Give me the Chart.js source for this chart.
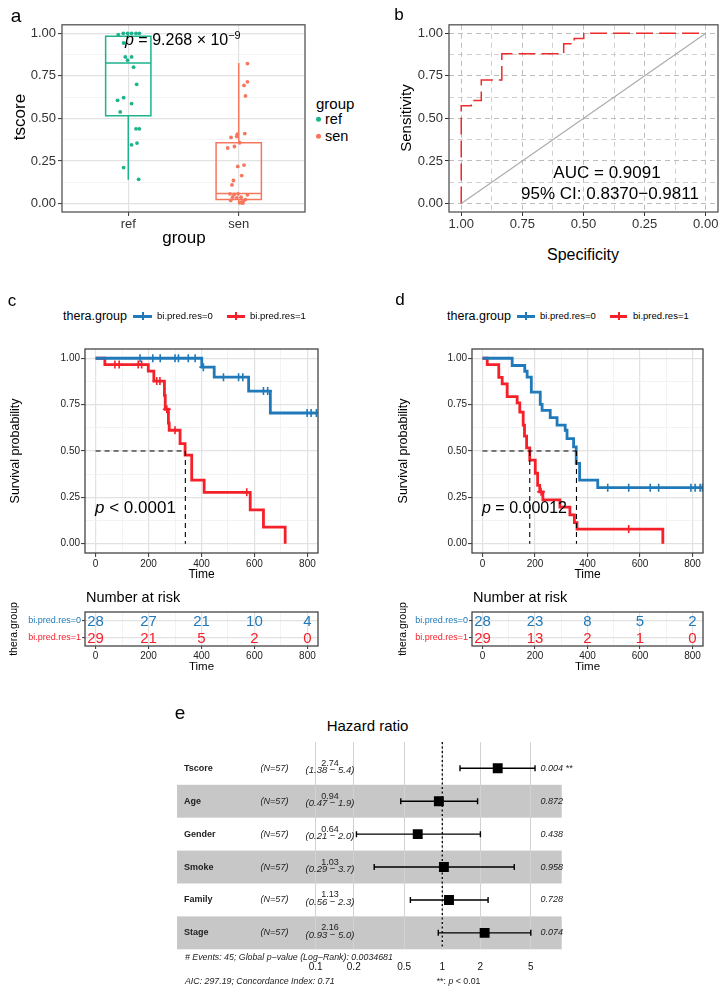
<!DOCTYPE html>
<html>
<head>
<meta charset="utf-8">
<script src="https://cdn.jsdelivr.net/npm/chart.js@4.4.1/dist/chart.umd.min.js"></script>
<style>
  body { margin: 0; width: 726px; height: 994px; position: relative; background: #fff; overflow: hidden;
         font-family: "Liberation Sans", Arial, sans-serif; color: #000; }
  canvas { position: absolute; }
  .t { position: absolute; white-space: nowrap; line-height: 1; }
  .cc { transform: translate(-50%, -50%); }
  .lc { transform: translateY(-50%); }
  .rot { transform: translate(-50%, -50%) rotate(-90deg); }
  .bx { position: absolute; }
  sup { font-size: 0.68em; vertical-align: 0.55em; line-height: 0; }
</style>
</head>
<body>
<canvas id="cA"></canvas>
<canvas id="cB"></canvas>
<canvas id="cC"></canvas>
<canvas id="cCr"></canvas>
<canvas id="cD"></canvas>
<canvas id="cDr"></canvas>
<canvas id="cE"></canvas>
<script>
// ---------- data: panel a (box + jitter) ----------
const groups = ['ref', 'sen'];
const refScore  = [0.992, 1.0, 1.0, 1.0, 1.0, 1.0, 0.943, 0.861, 0.842, 0.861, 0.801, 0.70, 0.606, 0.622, 0.587, 0.538, 0.439, 0.439, 0.345, 0.355, 0.211, 0.142];
const refJitter = [-0.091, -0.045, -0.006, 0.03, 0.07, 0.1, -0.042, -0.027, -0.006, 0.03, 0.048, 0.076, -0.097, -0.042, 0.03, -0.073, 0.07, 0.1, 0.03, 0.079, -0.042, 0.094];
const senScore  = [0.822, 0.715, 0.694, 0.632, 0.407, 0.394, 0.411, 0.388, 0.357, 0.326, 0.335, 0.218, 0.226, 0.164, 0.135, 0.109,
                   0.057, 0.053, 0.057, 0.051, 0.037, 0.033, 0.037, 0.023, 0.018, 0.014, 0.008, 0.002, 0.004];
const senJitter = [0.079, 0.079, 0.048, 0.061, -0.012, -0.018, 0.055, -0.07, 0.009, -0.1, -0.039, -0.009, 0.048, 0.027, -0.048, -0.061,
                   -0.079, -0.042, -0.006, 0.079, -0.055, -0.018, 0.021, 0.061, -0.073, 0.042, 0.024, 0.036, 0.009];
// min, q1, median, q3, max
const refBox = [0.14, 0.515, 0.825, 0.982, 1.0];
const senBox = [0.0, 0.023, 0.058, 0.357, 0.825];
const unitTicks = [0, 0.25, 0.5, 0.75, 1];

// ---------- data: panel b (ROC) ----------
const rocSpec = [1, 1, 0.959, 0.959, 0.918, 0.918, 0.834, 0.834, 0.581, 0.581, 0.538, 0.538, 0.499, 0.499, 0];
const rocSens = [0, 0.574, 0.574, 0.605, 0.605, 0.725, 0.725, 0.88, 0.88, 0.938, 0.938, 0.969, 0.969, 1, 1];

// ---------- data: panels c, d (Kaplan-Meier) ----------
const timeTicks = [0, 200, 400, 600, 800];
const cBlueT = [401, 448, 578, 660];
const cBlueS = [0.952, 0.898, 0.823, 0.705];
const cBlueCens = [168, 216, 244, 300, 313, 350, 376, 407, 483, 540, 556, 634, 650, 799, 814, 834];
const cRedT = [35, 199, 220, 260, 263, 275, 278, 319, 338, 363, 410, 584, 634, 716];
const cRedS = [0.966, 0.931, 0.877, 0.80, 0.725, 0.65, 0.612, 0.54, 0.478, 0.343, 0.277, 0.183, 0.09, 0];
const cRedCens = [73, 89, 161, 174, 231, 243, 269, 300, 571];
const cMedian = [339];

const dBlueT = [113, 161, 170, 186, 220, 227, 258, 284, 315, 322, 347, 357, 370, 439];
const dBlueS = [0.961, 0.93, 0.898, 0.818, 0.751, 0.719, 0.68, 0.639, 0.612, 0.567, 0.522, 0.433, 0.343, 0.302];
const dBlueCens = [477, 557, 639, 671, 794, 810, 829, 838];
const dRedT = [18, 62, 75, 94, 132, 142, 155, 160, 168, 180, 201, 210, 218, 230, 295, 333, 350, 360, 687];
const dRedS = [0.966, 0.897, 0.862, 0.793, 0.759, 0.71, 0.64, 0.58, 0.517, 0.451, 0.38, 0.315, 0.28, 0.236, 0.197, 0.156, 0.114, 0.079, 0];
const dRedCens = [223, 557];
const dMedian = [180, 358];

const riskGroups = ['bi.pred.res=0', 'bi.pred.res=1'];
const riskC = [[28, 27, 21, 10, 4], [29, 21, 5, 2, 0]];
const riskD = [[28, 23, 8, 5, 2], [29, 13, 2, 1, 0]];

// ---------- data: panel e (forest) ----------
const fVars = ['Tscore', 'Age', 'Gender', 'Smoke', 'Family', 'Stage'];
const fN    = [57, 57, 57, 57, 57, 57];
const fHR   = [2.74, 0.94, 0.64, 1.03, 1.13, 2.16];
const fLo   = [1.38, 0.47, 0.21, 0.29, 0.56, 0.93];
const fHi   = [5.4, 1.9, 2.0, 3.7, 2.3, 5.0];
const fP    = ['0.004 **', '0.872', '0.438', '0.958', '0.728', '0.074'];
const fTicks = [0.1, 0.2, 0.5, 1, 2, 5];

// ---------- styles ----------
const FONT = '"Liberation Sans", Arial, sans-serif';
const colRef = '#1db38c', colSen = '#f7775e';
const kmCols = ['#2079b9', '#f5202a'];
Chart.defaults.font.family = FONT;
Chart.defaults.color = '#333';

// ---------- helpers ----------
function txt(s, x, y, cls, css) {
  const d = document.createElement('div');
  d.className = 't ' + (cls || 'lc');
  d.innerHTML = s;
  d.style.cssText = 'left:' + x + 'px;top:' + y + 'px;' + (css || '');
  document.body.appendChild(d);
  return d;
}
function box(x, y, w, h, col) {
  const d = document.createElement('div');
  d.className = 'bx';
  d.style.cssText = 'left:' + x + 'px;top:' + y + 'px;width:' + w + 'px;height:' + h + 'px;background:' + col;
  document.body.appendChild(d);
}
// place canvas cv=[x0,y0,x1,y1] so that the plot area is plot=[l,t,r,b]
function place(id, cv, plot) {
  const el = document.getElementById(id);
  el.style.left = cv[0] + 'px'; el.style.top = cv[1] + 'px';
  el.width = cv[2] - cv[0]; el.height = cv[3] - cv[1];
  return { el: el, pad: { top: plot[1] - cv[1], right: cv[2] - plot[2], left: 0, bottom: 0 },
           yw: plot[0] - cv[0], xh: cv[3] - plot[3] };
}
function mids(a) { const m = []; for (let i = 0; i < a.length - 1; i++) m.push((a[i] + a[i + 1]) / 2); return m; }

function axis(o) {
  const all = o.major.concat(o.minor || []).sort((a, b) => a - b);
  const isMaj = v => o.major.indexOf(v) >= 0;
  return {
    type: o.type || 'linear', min: o.min, max: o.max, reverse: !!o.reverse, display: o.display !== false,
    afterBuildTicks: s => { s.ticks = all.map(v => ({ value: v })); },
    afterFit: s => { if (o.w != null) s.width = o.w; if (o.h != null) s.height = o.h; },
    border: { display: false, dash: o.dash || [] },
    grid: {
      color: c => (c.tick && isMaj(c.tick.value)) ? o.gMaj : o.gMin,
      lineWidth: c => (c.tick && isMaj(c.tick.value)) ? (o.wMaj || 1.2) : (o.wMin || 0.7),
      drawTicks: o.tl !== 0, tickLength: o.tl == null ? 4 : o.tl, tickWidth: 1, tickBorderDash: [],
      tickColor: c => (c.tick && isMaj(c.tick.value)) ? '#333' : 'rgba(0,0,0,0)'
    },
    ticks: {
      autoSkip: false, maxRotation: 0, padding: o.pad == null ? 2 : o.pad,
      font: { size: o.size || 13 }, color: o.color || '#333',
      callback: function (v, i) { return o.labels ? o.labels(v, i) : (isMaj(v) ? o.fmt(v) : ''); }
    }
  };
}
const fmt2 = v => v.toFixed(2);

const framePlugin = {
  id: 'frame',
  afterDatasetsDraw(chart, args, o) {
    if (!o.color) return;
    const a = chart.chartArea, ctx = chart.ctx;
    ctx.save(); ctx.strokeStyle = o.color; ctx.lineWidth = o.width || 1.3;
    ctx.strokeRect(a.left, a.top, a.right - a.left, a.bottom - a.top);
    ctx.restore();
  }
};
Chart.register(framePlugin);

function baseOpts(g, scales, extra) {
  return Object.assign({
    responsive: false, animation: false, devicePixelRatio: 1,
    layout: { padding: g.pad },
    plugins: Object.assign({ legend: { display: false }, tooltip: { enabled: false } }, extra || {}),
    scales: scales
  });
}

// ---------- panel a ----------
const boxHalf = 0.205;
const boxPlugin = {
  id: 'boxes',
  beforeDatasetsDraw(chart) {
    const x = chart.scales.x, y = chart.scales.y, ctx = chart.ctx;
    [[refBox, colRef, 1], [senBox, colSen, 2]].forEach(([b, col, pos]) => {
      const xl = x.getPixelForValue(pos - boxHalf), xr = x.getPixelForValue(pos + boxHalf), xc = x.getPixelForValue(pos);
      const py = b.map(v => y.getPixelForValue(v));
      ctx.save(); ctx.strokeStyle = col; ctx.lineWidth = 1.5;
      ctx.beginPath();
      ctx.moveTo(xc, py[0]); ctx.lineTo(xc, py[1]);
      ctx.moveTo(xc, py[3]); ctx.lineTo(xc, py[4]);
      ctx.rect(xl, py[3], xr - xl, py[1] - py[3]);
      ctx.moveTo(xl, py[2]); ctx.lineTo(xr, py[2]);
      ctx.stroke(); ctx.restore();
    });
  }
};
const gA = place('cA', [0, 15, 312, 232], [62, 23, 305, 212]);
new Chart(gA.el, {
  type: 'scatter',
  data: { datasets: [
    { data: refScore.map((v, i) => ({ x: 1 + refJitter[i], y: v })), backgroundColor: colRef, borderWidth: 0, pointRadius: 1.9 },
    { data: senScore.map((v, i) => ({ x: 2 + senJitter[i], y: v })), backgroundColor: colSen, borderWidth: 0, pointRadius: 1.9 }
  ] },
  options: baseOpts(gA, {
    x: axis({ min: 0.4, max: 2.6, major: [1, 2], labels: v => groups[v - 1], h: gA.xh, gMaj: '#e2e2e2', size: 13, pad: 1 }),
    y: axis({ min: -0.05, max: 1.05, major: unitTicks, minor: mids(unitTicks), fmt: fmt2, w: gA.yw, gMaj: '#e2e2e2', gMin: '#efefef', size: 13, pad: 2 })
  }, { frame: { color: '#555' } }),
  plugins: [boxPlugin]
});
txt('a', 16, 15, 'cc', 'font-size:19px');
txt('tscore', 19, 117, 'rot', 'font-size:17px');
txt('group', 184, 237, 'cc', 'font-size:17px');
txt('<i>p</i> = 9.268 × 10<sup>−9</sup>', 125, 40, 'lc', 'font-size:16px');
txt('group', 316, 103, 'lc', 'font-size:15px');
txt('<span style="display:inline-block;width:5px;height:5px;border-radius:50%;background:' + colRef + ';margin-right:4px;vertical-align:2px"></span>ref', 316, 119, 'lc', 'font-size:14.5px');
txt('<span style="display:inline-block;width:5px;height:5px;border-radius:50%;background:' + colSen + ';margin-right:4px;vertical-align:2px"></span>sen', 316, 136, 'lc', 'font-size:14.5px');

// ---------- panel b ----------
const gB = place('cB', [376, 15, 726, 232], [449, 23, 718, 212]);
new Chart(gB.el, {
  type: 'scatter',
  data: { datasets: [
    { data: [{ x: 1, y: 0 }, { x: 0, y: 1 }], showLine: true, borderColor: '#aaaaaa', borderWidth: 1.1, pointRadius: 0 },
    { data: rocSpec.map((s, i) => ({ x: s, y: rocSens[i] })), showLine: true, borderColor: '#ee2a2a', borderWidth: 1.5,
      borderDash: [17, 6], pointRadius: 0 }
  ] },
  options: baseOpts(gB, {
    x: axis({ min: -0.05, max: 1.05, reverse: true, major: unitTicks, minor: mids(unitTicks), fmt: fmt2, h: gB.xh,
              gMaj: '#bdbdbd', gMin: '#cfcfcf', wMaj: 1, wMin: 1, dash: [5, 4], size: 13, pad: 1 }),
    y: axis({ min: -0.05, max: 1.05, major: unitTicks, minor: mids(unitTicks), fmt: fmt2, w: gB.yw,
              gMaj: '#bdbdbd', gMin: '#cfcfcf', wMaj: 1, wMin: 1, dash: [5, 4], size: 13, pad: 2 })
  }, { frame: { color: '#555' } })
});
txt('b', 399, 14, 'cc', 'font-size:17px');
txt('Sensitivity', 405, 118, 'rot', 'font-size:15px');
txt('Specificity', 583, 255, 'cc', 'font-size:16px');
txt('AUC = 0.9091', 607, 172, 'cc', 'font-size:17px');
txt('95% CI: 0.8370−0.9811', 610, 193, 'cc', 'font-size:17px');

// ---------- panels c, d ----------
function survAt(t, T, S) { let s = 1; for (let i = 0; i < T.length; i++) if (T[i] <= t) s = S[i]; return s; }
function curve(T, S, cens) {
  const pts = [{ x: 0, y: 1 }].concat(T.map((t, i) => ({ x: t, y: S[i] })));
  const last = Math.max.apply(null, cens);
  if (last > T[T.length - 1]) pts.push({ x: last, y: S[S.length - 1] });
  return pts;
}
function kmChart(id, cv, plot, blue, red, med) {
  const g = place(id, cv, plot);
  const dash = { showLine: true, borderColor: '#000', borderWidth: 1.1, borderDash: [5, 4], pointRadius: 0 };
  const ds = [Object.assign({ data: [{ x: 0, y: 0.5 }, { x: med[med.length - 1], y: 0.5 }] }, dash)];
  med.forEach(m => ds.push(Object.assign({ data: [{ x: m, y: 0.5 }, { x: m, y: 0 }] }, dash)));
  [blue, red].forEach((k, i) => {
    ds.push({ data: curve(k[0], k[1], k[2]), showLine: true, stepped: true, borderColor: kmCols[i], borderWidth: 2.8, pointRadius: 0 });
    ds.push({ data: k[2].map(t => ({ x: t, y: survAt(t, k[0], k[1]) })), pointStyle: 'cross', pointRadius: 4,
              borderColor: kmCols[i], borderWidth: 1.6 });
  });
  new Chart(g.el, {
    type: 'scatter',
    data: { datasets: ds },
    options: baseOpts(g, {
      x: axis({ min: -40, max: 840, major: timeTicks, minor: mids(timeTicks), fmt: v => String(v), h: g.xh,
                gMaj: '#e2e2e2', gMin: '#eeeeee', size: 10, pad: 1, color: '#222' }),
      y: axis({ min: -0.05, max: 1.05, major: unitTicks, minor: mids(unitTicks), fmt: fmt2, w: g.yw,
                gMaj: '#e2e2e2', gMin: '#eeeeee', size: 10, pad: 1, color: '#222' })
    }, { frame: { color: '#444' } })
  });
}
const riskPlugin = {
  id: 'risk',
  afterDatasetsDraw(chart, args, o) {
    if (!o.rows) return;
    const x = chart.scales.x, y = chart.scales.y, ctx = chart.ctx;
    ctx.save(); ctx.font = '15px ' + FONT; ctx.textAlign = 'center'; ctx.textBaseline = 'middle';
    o.rows.forEach((row, r) => {
      ctx.fillStyle = kmCols[r];
      row.forEach((n, i) => ctx.fillText(String(n), x.getPixelForValue(timeTicks[i]), y.getPixelForValue(r + 1) + 1));
    });
    ctx.restore();
  }
};
function riskChart(id, cv, plot, rows) {
  const g = place(id, cv, plot);
  const yAx = axis({ min: 0.5, max: 2.5, reverse: true, major: [1, 2], labels: v => riskGroups[v - 1], w: g.yw,
                     gMaj: '#e2e2e2', size: 9, pad: 1, tl: 3 });
  yAx.ticks.color = c => kmCols[c.index];
  new Chart(g.el, {
    type: 'scatter',
    data: { datasets: [{ data: [], pointRadius: 0 }] },
    options: baseOpts(g, {
      x: axis({ min: -40, max: 840, major: timeTicks, minor: mids(timeTicks), fmt: v => String(v), h: g.xh,
                gMaj: '#e2e2e2', gMin: '#eeeeee', size: 10, pad: 1, tl: 3, color: '#222' }),
      y: yAx
    }, { frame: { color: '#444' }, risk: { rows: rows } }),
    plugins: [riskPlugin]
  });
}
function kmLegend(x0, lines) {
  txt('thera.group', x0, 316, 'lc', 'font-size:12.5px');
  lines.forEach((l, i) => {
    box(l[0], 314.5, l[1] - l[0], 3, kmCols[i]);
    box((l[0] + l[1]) / 2 - 1, 312, 2, 8, kmCols[i]);
    txt(riskGroups[i], l[2], 316, 'lc', 'font-size:9.5px');
  });
}

kmChart('cC', [40, 340, 330, 580], [85, 349, 318, 553], [cBlueT, cBlueS, cBlueCens], [cRedT, cRedS, cRedCens], cMedian);
riskChart('cCr', [18, 605, 330, 662], [85, 612, 318, 646], riskC);
txt('c', 12, 300, 'cc', 'font-size:17px');
kmLegend(63, [[133, 152, 157], [227, 245, 250]]);
txt('Survival probability', 15, 451, 'rot', 'font-size:12.5px');
txt('Time', 201.5, 574, 'cc', 'font-size:12px');
txt('<i>p</i> &lt; 0.0001', 95, 507, 'lc', 'font-size:17px');
txt('Number at risk', 86, 597, 'lc', 'font-size:14.5px');
txt('thera.group', 13, 629, 'rot', 'font-size:10.5px');
txt('Time', 201.5, 667, 'cc', 'font-size:11.5px');

kmChart('cD', [420, 340, 726, 580], [472, 349, 703, 553], [dBlueT, dBlueS, dBlueCens], [dRedT, dRedS, dRedCens], dMedian);
riskChart('cDr', [405, 605, 726, 662], [472, 612, 703, 646], riskD);
txt('d', 400, 299, 'cc', 'font-size:17px');
kmLegend(447, [[517, 535, 540], [610, 627, 633]]);
txt('Survival probability', 403, 451, 'rot', 'font-size:12.5px');
txt('Time', 587.5, 574, 'cc', 'font-size:12px');
txt('<i>p</i> = 0.00012', 482, 507.7, 'lc', 'font-size:16px');
txt('Number at risk', 473, 597, 'lc', 'font-size:14.5px');
txt('thera.group', 402, 629, 'rot', 'font-size:10.5px');
txt('Time', 587.5, 667, 'cc', 'font-size:11.5px');

// ---------- panel e ----------
const gE = place('cE', [170, 735, 600, 994], [176, 740, 561.7, 949.3]);
gE.pad.left = 6;
const forestPlugin = {
  id: 'forest',
  beforeDraw(chart) {
    const a = chart.chartArea, y = chart.scales.y, ctx = chart.ctx;
    ctx.save(); ctx.fillStyle = '#c7c7c7';
    fVars.forEach((v, i) => {
      if (i % 2 === 1) { const t = y.getPixelForValue(i + 0.5), b = y.getPixelForValue(i + 1.5); ctx.fillRect(a.left, t, a.right - a.left, b - t); }
    });
    ctx.restore();
  },
  beforeDatasetsDraw(chart) {
    const x = chart.scales.x, y = chart.scales.y, ctx = chart.ctx;
    ctx.save(); ctx.strokeStyle = '#000'; ctx.lineWidth = 1.4;
    fVars.forEach((v, i) => {
      const py = y.getPixelForValue(i + 1), l = x.getPixelForValue(fLo[i]), r = x.getPixelForValue(fHi[i]);
      ctx.beginPath();
      ctx.moveTo(l, py); ctx.lineTo(r, py);
      ctx.moveTo(l, py - 3); ctx.lineTo(l, py + 3);
      ctx.moveTo(r, py - 3); ctx.lineTo(r, py + 3);
      ctx.stroke();
    });
    ctx.restore();
  },
  afterDatasetsDraw(chart) {
    const y = chart.scales.y, ctx = chart.ctx;
    ctx.save(); ctx.fillStyle = '#222'; ctx.textBaseline = 'middle';
    fVars.forEach((v, i) => {
      const py = y.getPixelForValue(i + 1);
      ctx.textAlign = 'left'; ctx.font = 'bold 9px ' + FONT; ctx.fillText(v, 14, py);
      ctx.textAlign = 'center'; ctx.font = 'italic 9px ' + FONT; ctx.fillText('(N=' + fN[i] + ')', 104.5, py);
      ctx.font = '9px ' + FONT; ctx.fillText(fHR[i].toFixed(2), 160, py - 5);
      ctx.font = 'italic 9.5px ' + FONT; ctx.fillText('(' + fLo[i] + ' − ' + fHi[i].toFixed(1) + ')', 160, py + 2.5);
      ctx.textAlign = 'left'; ctx.font = 'italic 9px ' + FONT; ctx.fillText(fP[i], 370.5, py);
    });
    ctx.restore();
  }
};
new Chart(gE.el, {
  type: 'scatter',
  data: { datasets: [
    { data: [{ x: 1, y: 0.2 }, { x: 1, y: 6.5 }], showLine: true, borderColor: '#000', borderWidth: 1.3, borderDash: [2, 2.5], pointRadius: 0 },
    { data: fHR.map((v, i) => ({ x: v, y: i + 1 })), pointStyle: 'rect', pointRadius: 7, backgroundColor: '#000', borderWidth: 0 }
  ] },
  options: baseOpts(gE, {
    x: axis({ type: 'logarithmic', min: 0.00804, max: 8.77, major: fTicks, fmt: v => String(v), h: gE.xh,
              gMaj: '#d2d2d2', wMaj: 1, size: 10, pad: 12, tl: 0, color: '#111' }),
    y: { type: 'linear', display: false, min: 0.2, max: 6.5, reverse: true }
  }),
  plugins: [forestPlugin]
});
txt('e', 180, 712, 'cc', 'font-size:19px');
txt('Hazard ratio', 367.5, 725, 'cc', 'font-size:15px');
txt('# Events: 45; Global p−value (Log−Rank): 0.0034681', 185, 956.7, 'lc', 'font-size:8.8px;font-style:italic;color:#222');
txt('AIC: 297.19; Concordance Index: 0.71', 185, 981, 'lc', 'font-size:8.8px;font-style:italic;color:#222');
txt('**: <i>p</i> &lt; 0.01', 436.7, 981.3, 'lc', 'font-size:8.8px;color:#222');
</script>
</body>
</html>
